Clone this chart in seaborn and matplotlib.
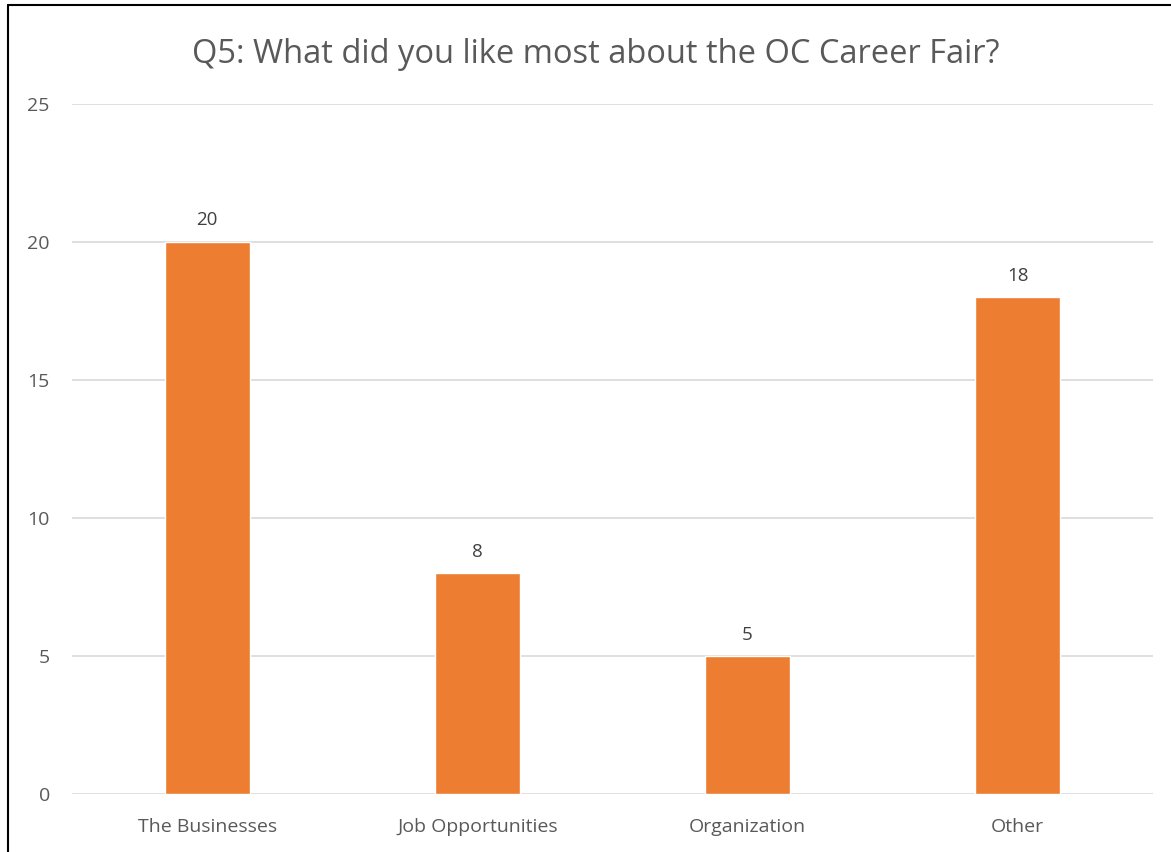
import matplotlib
matplotlib.use("Agg")
import matplotlib.pyplot as plt
import matplotlib.lines as mlines
import seaborn as sns
import pandas as pd

categories = ["The Businesses", "Job Opportunities", "Organization", "Other"]
counts = [20, 8, 5, 18]
yticks = [0, 5, 10, 15, 20, 25]

df = pd.DataFrame({"Answer": categories, "Count": counts})

sns.set_theme(style="white")
plt.rcParams["font.family"] = ["Open Sans", "DejaVu Sans"]

text_color = "#595959"
fig = plt.figure(figsize=(11.71, 8.52), dpi=100)
ax = fig.add_axes([0.0615, 0.068, 0.923, 0.81])

sns.barplot(data=df, x="Answer", y="Count", color="#ED7D31", width=0.315,
            saturation=1, ax=ax, zorder=3)
ax.bar_label(ax.containers[0], padding=9, fontsize=13.5, color="#404040")

ax.set_ylim(0, 25)
ax.set_xlim(-0.5, 3.5)
ax.set_yticks(yticks)
ax.yaxis.grid(True, color="#D9D9D9", linewidth=1.2, zorder=0)
ax.set_axisbelow(True)
for s in ax.spines.values():
    s.set_visible(False)
ax.tick_params(axis="both", length=0, labelsize=14, colors=text_color)
ax.tick_params(axis="y", pad=16)
ax.tick_params(axis="x", pad=17)
ax.set_xlabel("")
ax.set_ylabel("")

fig.text(0.509, 0.936, "Q5: What did you like most about the OC Career Fair?",
         ha="center", va="center", fontsize=23.5, color=text_color)

# outer border (left and top edges visible in the reference)
fig.add_artist(mlines.Line2D([8 / 1171, 8 / 1171], [0, 1 - 5 / 852],
                             color="black", linewidth=1.5, transform=fig.transFigure))
fig.add_artist(mlines.Line2D([8 / 1171, 1], [1 - 5 / 852, 1 - 5 / 852],
                             color="black", linewidth=1.5, transform=fig.transFigure))

fig.savefig("out.png", dpi=100, facecolor="white")
